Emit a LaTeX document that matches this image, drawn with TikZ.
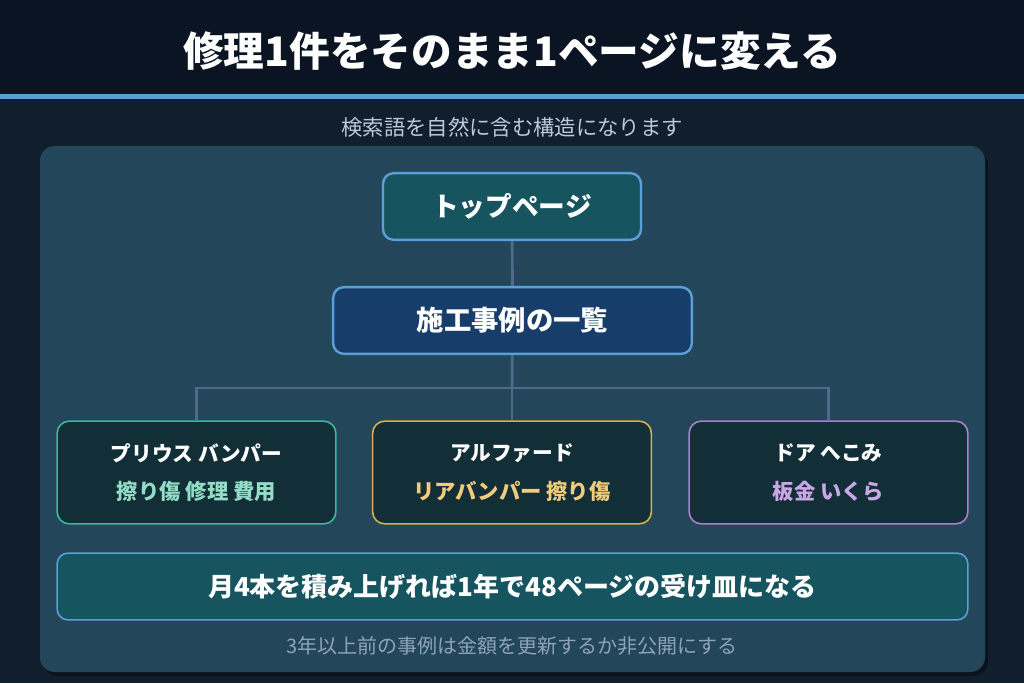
\documentclass[tikz,border=0pt]{standalone}
\usepackage{fontspec}
\setmainfont{Noto Sans CJK JP}
\definecolor{headbg}{HTML}{0A1422}
\definecolor{pagebg}{HTML}{101E2E}
\definecolor{panelbg}{HTML}{23465A}
\definecolor{lineblue}{HTML}{5A9FD8}
\definecolor{tealfill}{HTML}{16545F}
\definecolor{navyfill}{HTML}{173E6B}
\definecolor{cardfill}{HTML}{122E37}
\definecolor{linkgray}{HTML}{50698A}
\definecolor{cardgreen}{HTML}{3CB79B}
\definecolor{cardgold}{HTML}{D8AE4F}
\definecolor{cardpurple}{HTML}{A97FCA}
\definecolor{txtgreen}{HTML}{93DCC6}
\definecolor{txtgold}{HTML}{F2CC7A}
\definecolor{txtpurple}{HTML}{C9A6E6}
\definecolor{subgray}{HTML}{B9C9D9}
\definecolor{footgray}{HTML}{8EA3B9}

\begin{document}
\begin{tikzpicture}[x=0.75pt,y=-0.75pt,
  pagebox/.style={draw=lineblue, line width=1.8pt, rounded corners=8pt,
    inner sep=0pt, text=white, font=\bfseries},
  card/.style={draw=#1, line width=1.2pt, rounded corners=9pt, fill=cardfill,
    minimum width=209pt, minimum height=77pt, inner sep=0pt, align=center,
    text=white, font=\fontsize{15.5}{29}\selectfont\bfseries},
  link/.style={draw=linkgray, line width=2.2pt}]
\useasboundingbox (0,0) rectangle (1024,683);
\fill[pagebg] (0,0) rectangle (1024,683);
\fill[headbg] (0,0) rectangle (1024,95);
\fill[lineblue] (0,94) rectangle (1024,99);

\node[text=white, font=\fontsize{30.5}{36}\selectfont\bfseries] (title) at (512,51) {修理1件をそのまま1ページに変える};
\node[text=subgray, font=\fontsize{16}{20}\selectfont] (sub) at (512,127) {検索語を自然に含む構造になります};

% panel
\fill[black, opacity=0.35, rounded corners=11pt] (43,150) rectangle (988,676);
\fill[panelbg, rounded corners=11pt] (40,146) rectangle (985,672);

\node[pagebox, fill=tealfill, minimum width=193.5pt, minimum height=50pt,
  font=\fontsize{20}{24}\selectfont\bfseries] (top) at (512,206.5) {トップページ};
\node[pagebox, fill=navyfill, minimum width=269pt, minimum height=50pt,
  font=\fontsize{20.5}{25}\selectfont\bfseries] (list) at (512.5,320.5) {施工事例の一覧};

\node[card=cardgreen] (prius) at (196.5,472.5) {プリウス バンパー\\\fontsize{16}{29}\selectfont\color{txtgreen}擦り傷 修理 費用};
\node[card=cardgold] (alphard) at (512,472.5) {アルファード\\\fontsize{16}{29}\selectfont\color{txtgold}リアバンパー 擦り傷};
\node[card=cardpurple] (door) at (828.5,472.5) {ドア へこみ\\\fontsize{16}{29}\selectfont\color{txtpurple}板金 いくら};

\node[pagebox, fill=tealfill, line width=1.2pt, minimum width=683pt, minimum height=50pt,
  font=\fontsize{19.5}{24}\selectfont\bfseries] (goal) at (512.5,586.5) {月4本を積み上げれば1年で48ページの受け皿になる};
\node[text=footgray, font=\fontsize{15}{18}\selectfont] (note) at (512,646) {3年以上前の事例は金額を更新するか非公開にする};

\coordinate (split) at (512,388);
\path[link] (top) -- (list);
\path[link] (list) -- (split);
\path[link] (prius.north) |- (split) -| (door.north);
\path[link] (split) -- (alphard.north);
\end{tikzpicture}
\end{document}
